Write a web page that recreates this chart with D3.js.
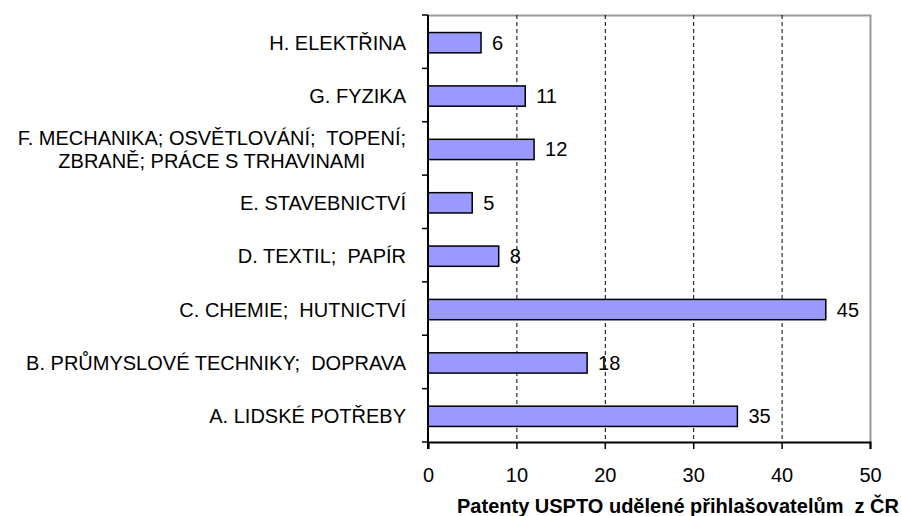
<!DOCTYPE html>
<html>
<head>
<meta charset="utf-8">
<script src="https://cdn.jsdelivr.net/npm/d3@7"></script>
<style>
  body { margin: 0; background: #fff; }
  svg { font-family: "Liberation Sans", Arial, sans-serif; }
  svg text { white-space: pre; }
</style>
</head>
<body>
<svg id="chart"></svg>
<script>
const width = 902;
const height = 516;

// categories top to bottom
const categories = [
  ['H. ELEKTŘINA'],
  ['G. FYZIKA'],
  ['F. MECHANIKA; OSVĚTLOVÁNÍ;  TOPENÍ;', 'ZBRANĚ; PRÁCE S TRHAVINAMI'],
  ['E. STAVEBNICTVÍ'],
  ['D. TEXTIL;  PAPÍR'],
  ['C. CHEMIE;  HUTNICTVÍ'],
  ['B. PRŮMYSLOVÉ TECHNIKY;  DOPRAVA'],
  ['A. LIDSKÉ POTŘEBY']
];
const values = [6, 11, 12, 5, 8, 45, 18, 35];
const xTicks = [0, 10, 20, 30, 40, 50];
const axisTitle = 'Patenty USPTO udělené přihlašovatelům  z ČR';

const plotLeft = 428, plotRight = 870, plotTop = 15, plotBottom = 442;
const fontSize = 20;

const svg = d3.select('#chart').attr('width', width).attr('height', height);

const x = d3.scaleLinear().domain([0, 50]).range([plotLeft, plotRight]);
const y = d3.scaleBand().domain(d3.range(categories.length)).range([plotTop, plotBottom]).paddingInner(0.62).paddingOuter(0.31);
const yEdge = d3.scaleLinear().domain([0, categories.length]).range([plotTop, plotBottom]);

// frame (top and right in gray)
svg.append('path')
  .attr('d', `M${plotLeft},${plotTop + 0.5}H${plotRight + 0.5}V${plotBottom}`)
  .attr('fill', 'none')
  .attr('stroke', '#999')
  .attr('stroke-width', 2);

// dashed gridlines
svg.selectAll('.grid')
  .data(xTicks.slice(1, -1))
  .enter().append('line')
  .attr('class', 'grid')
  .attr('x1', d => x(d) + 0.5).attr('x2', d => x(d) + 0.5)
  .attr('y1', plotTop).attr('y2', plotBottom)
  .attr('stroke', '#000')
  .attr('stroke-dasharray', '4,3');

// bars
svg.selectAll('.bar')
  .data(values)
  .enter().append('rect')
  .attr('class', 'bar')
  .attr('x', x(0))
  .attr('y', (d, i) => y(i) + 1)
  .attr('width', d => x(d) - x(0))
  .attr('height', y.bandwidth())
  .attr('fill', '#9999ff')
  .attr('stroke', '#000')
  .attr('stroke-width', 1.5);

// value labels
svg.selectAll('.val')
  .data(values)
  .enter().append('text')
  .attr('class', 'val')
  .attr('x', d => x(d) + 11)
  .attr('y', (d, i) => y(i) + y.bandwidth() / 2 + 1)
  .attr('dy', '0.35em')
  .attr('font-size', fontSize)
  .text(d => d);

// x axis
const xAxis = svg.append('g')
  .attr('transform', `translate(0,${plotBottom})`)
  .call(d3.axisBottom(x).tickValues(xTicks).tickSize(7).tickPadding(19));
xAxis.attr('font-family', null).attr('font-size', fontSize);
xAxis.select('.domain').attr('stroke-width', 2);
xAxis.selectAll('.tick line').attr('stroke-width', 1.5);
xAxis.selectAll('text').attr('fill', '#000');

// y axis (ticks between categories)
svg.append('line')
  .attr('x1', plotLeft).attr('x2', plotLeft)
  .attr('y1', plotTop).attr('y2', plotBottom + 7)
  .attr('stroke', '#000').attr('stroke-width', 2);
svg.selectAll('.ytick')
  .data(d3.range(categories.length + 1))
  .enter().append('line')
  .attr('class', 'ytick')
  .attr('x1', plotLeft - 6).attr('x2', plotLeft)
  .attr('y1', d => yEdge(d)).attr('y2', d => yEdge(d))
  .attr('stroke', '#000').attr('stroke-width', 1.5);

// category labels
const labelX = 406;
categories.forEach((lines, i) => {
  const cy = y(i) + y.bandwidth() / 2 + 1;
  const g = svg.append('g').attr('font-size', fontSize);
  if (lines.length === 1) {
    g.append('text')
      .attr('x', labelX).attr('y', cy).attr('dy', '0.35em')
      .attr('text-anchor', 'end')
      .text(lines[0]);
  } else {
    const first = g.append('text')
      .attr('x', labelX).attr('y', cy - 4)
      .attr('text-anchor', 'end')
      .text(lines[0]);
    const w = first.node().getComputedTextLength();
    g.append('text')
      .attr('x', labelX - w / 2).attr('y', cy + 19)
      .attr('text-anchor', 'middle')
      .text(lines[1]);
  }
});

// axis title
svg.append('text')
  .attr('x', 899).attr('y', 513)
  .attr('text-anchor', 'end')
  .attr('font-size', fontSize)
  .attr('font-weight', 'bold')
  .text(axisTitle);
</script>
</body>
</html>
